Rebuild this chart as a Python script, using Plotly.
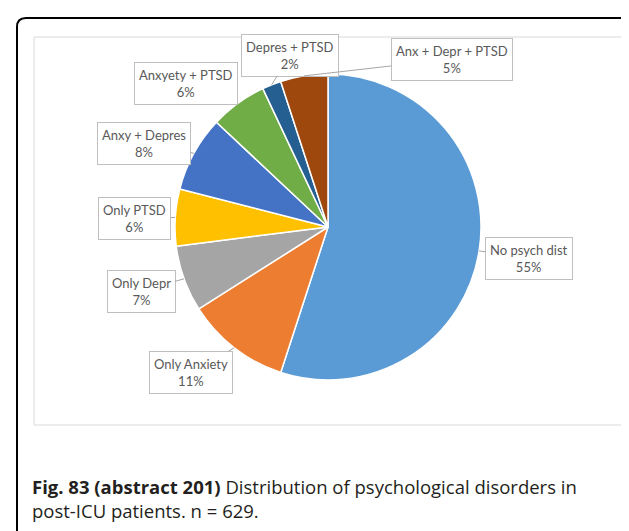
import math
import plotly.graph_objects as go

labels = ["No psych dist", "Only Anxiety", "Only Depr", "Only PTSD",
          "Anxy + Depres", "Anxyety + PTSD", "Depres + PTSD", "Anx + Depr + PTSD"]
values = [55, 11, 7, 6, 8, 6, 2, 5]
colors = ["#5B9BD5", "#ED7D31", "#A5A5A5", "#FFC000",
          "#4472C4", "#70AD47", "#255E91", "#9E480E"]
# label box centres (pixels)
label_pos = [(521, 250), (183, 364), (133, 283), (127, 211),
             (136, 135), (178, 75), (282, 47), (444, 51)]

W, H = 629, 531
cx, cy, r = 320, 219, 153

def px(x):
    return x / W

def py(y):
    return 1 - y / H

fig = go.Figure(go.Pie(
    labels=labels, values=values, sort=False, direction="clockwise", rotation=0,
    marker=dict(colors=colors, line=dict(color="white", width=1.5)),
    textinfo="none", hoverinfo="label+percent", showlegend=False,
    domain=dict(x=[px(cx - r), px(cx + r)], y=[py(cy + r), py(cy - r)]),
))

total = sum(values)
cum = 0
annotations = []
for lab, v, (bx, by) in zip(labels, values, label_pos):
    mid = (cum + v / 2) / total * 2 * math.pi
    cum += v
    tx = cx + r * math.sin(mid)
    ty = cy - r * math.cos(mid)
    annotations.append(dict(
        x=px(tx), y=py(ty), xref="paper", yref="paper",
        ax=bx - tx, ay=by - ty, axref="pixel", ayref="pixel",
        text=f"{lab}<br>{round(v / total * 100)}%",
        showarrow=True, arrowhead=0, arrowwidth=1, arrowcolor="#A6A6A6",
        font=dict(family="Lato", size=13, color="#595959"),
        bgcolor="white", bordercolor="#BFBFBF", borderwidth=1, borderpad=4,
        align="center",
    ))

annotations.append(dict(
    x=px(22), y=py(464), xref="paper", yref="paper", xanchor="left", yanchor="top",
    text="<b>Fig. 83 (abstract 201)</b> Distribution of psychological disorders in<br>post-ICU patients. n = 629.",
    showarrow=False, align="left",
    font=dict(family="Open Sans", size=18.5, color="#231F20"),
))

shapes = [
    dict(type="rect", xref="paper", yref="paper",
         x0=px(26), x1=px(616), y0=py(417), y1=py(29),
         line=dict(color="#D9D9D9", width=1), layer="below"),
    dict(type="path", xref="paper", yref="paper",
         path=(f"M {px(9)},{py(531)} L {px(9)},{py(19)} Q {px(9)},{py(10)} {px(18)},{py(10)} "
               f"L {px(619)},{py(10)} Q {px(628)},{py(10)} {px(628)},{py(19)} L {px(628)},{py(531)}"),
         line=dict(color="black", width=2)),
]

fig.update_layout(
    width=W, height=H, margin=dict(l=0, r=0, t=0, b=0),
    paper_bgcolor="white", plot_bgcolor="white",
    annotations=annotations, shapes=shapes,
)

fig.write_html("out.html")
